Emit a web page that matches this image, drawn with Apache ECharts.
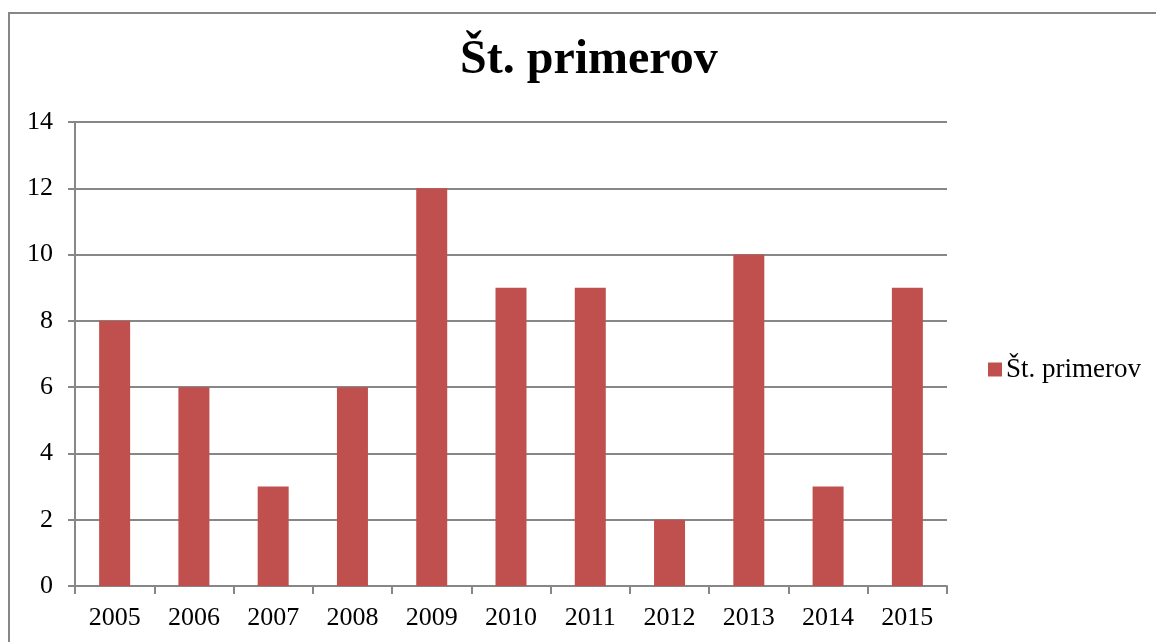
<!DOCTYPE html>
<html><head><meta charset="utf-8">
<script src="https://cdn.jsdelivr.net/npm/echarts@6/dist/echarts.min.js"></script>
<style>html,body{margin:0;padding:0;background:#fff}#c{width:1156px;height:642px}</style>
</head><body><div id="c"></div>
<script>
const categories = ['2005','2006','2007','2008','2009','2010','2011','2012','2013','2014','2015'];
const values = [8, 6, 3, 6, 12, 9, 9, 2, 10, 3, 9];
const seriesName = 'Št. primerov';
const titleText = 'Št. primerov';
const font = '"Liberation Serif", "Times New Roman", serif';
const chart = echarts.init(document.getElementById('c'));
chart.setOption({
  animation: false,
  backgroundColor: '#fff',
  graphic: [{type:'rect', shape:{x:9, y:13, width:1200, height:700}, style:{fill:'none', stroke:'#878787', lineWidth:2}, silent:true}],
  title: {text: titleText, left: 460, top: 37, padding: 0, textStyle:{fontFamily: font, fontSize: 48, fontWeight:'bold', color:'#000'}},
  legend: {data:[seriesName], orient:'vertical', left: 988, top: 356, padding: 0, itemWidth: 14, itemHeight: 14, itemGap: 8, icon:'rect',
    textStyle:{fontFamily: font, fontSize: 27, color:'#000', padding:[0,0,0,-1]}},
  grid: {left: 75, right: 209, top: 122, bottom: 56, containLabel: false},
  xAxis: {type:'category', data: categories,
    axisLine:{show:true, lineStyle:{color:'#878787', width:2}},
    axisTick:{show:true, alignWithLabel:false, length:8, lineStyle:{color:'#878787', width:2}},
    axisLabel:{fontFamily: font, fontSize: 26, color:'#000', margin: 19}},
  yAxis: {type:'value', min:0, max:14, interval:2,
    axisLine:{show:true, lineStyle:{color:'#878787', width:2}},
    axisTick:{show:true, length:7, lineStyle:{color:'#878787', width:2}},
    splitLine:{show:true, lineStyle:{color:'#878787', width:2}},
    axisLabel:{fontFamily: font, fontSize: 26, color:'#000', margin: 22}},
  series: [{name: seriesName, type:'bar', data: values, barWidth: 31, itemStyle:{color:'#C0504D'}}]
});
</script></body></html>
